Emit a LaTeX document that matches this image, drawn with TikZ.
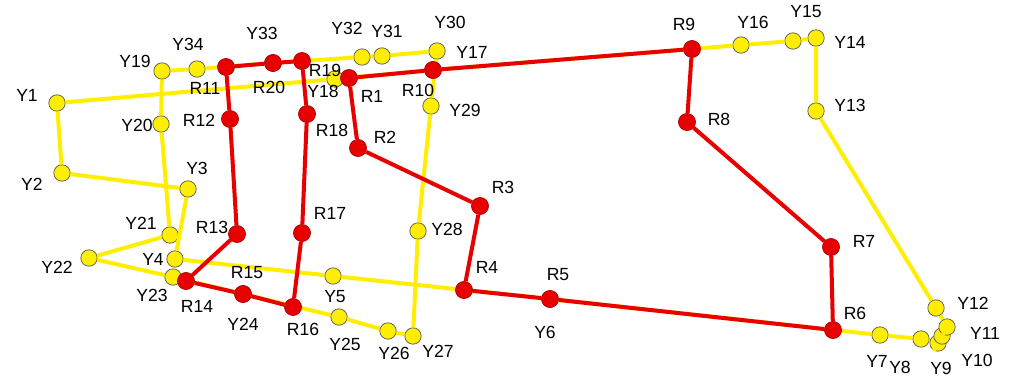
\documentclass[tikz,border=0pt]{standalone}
\usepackage{fontspec}
\setmainfont{Liberation Sans}
\definecolor{ygelb}{RGB}{255,238,0}
\definecolor{rrot}{RGB}{232,0,0}
\begin{document}
\begin{tikzpicture}[x=0.025cm, y=-0.025cm,
	ydot/.style={circle, fill=ygelb, draw=black!65, line width=0.5pt, minimum size=0.41cm, inner sep=0pt},
	rdot/.style={circle, fill=rrot, draw=red!60!black, line width=0.4pt, minimum size=0.43cm, inner sep=0pt},
	yline/.style={draw=ygelb, line width=0.1cm},
	rline/.style={draw=rrot, line width=0.1cm},
	lab/.style={font=\fontsize{12.5}{14}\selectfont, inner sep=0pt}]
	\useasboundingbox (0,0) rectangle (1012,382);

	\foreach \n/\x/\y in {Y1/57/103, Y2/62/173, Y3/188/189, Y4/175/259, Y5/333/276, Y6/550/299,
		Y7/880/335, Y8/921/339, Y9/938/343, Y10/942/336, Y11/947/327, Y12/936/308,
		Y13/816/111, Y14/816/38, Y15/793/41, Y16/741/45, Y17/433/70, Y18/335/79,
		Y19/162/71, Y20/161/124, Y21/170/235, Y22/89/258, Y23/173/277, Y24/243/294,
		Y25/339/317, Y26/388/331, Y27/413/336, Y28/418/231, Y29/431/106, Y30/437/51,
		Y31/382/56, Y32/362/57, Y33/273/63, Y34/197/69}
		\node [ydot] (\n) at (\x,\y) {};

	\draw
		[yline] (Y1) -- (Y2) -- (Y3) -- (Y4) -- (Y5) -- (Y6) -- (Y7) -- (Y8) -- (Y9)
		-- (Y10) -- (Y11) -- (Y12) -- (Y13) -- (Y14) -- (Y15) -- (Y16) -- (Y17) -- (Y18) -- (Y1);

	\draw
		[yline] (Y19) -- (Y20) -- (Y21) -- (Y22) -- (Y23) -- (Y24) -- (Y25) -- (Y26) -- (Y27)
		-- (Y28) -- (Y29) -- (Y30) -- (Y31) -- (Y32) -- (Y33) -- (Y34) -- (Y19);

	\foreach \n/\x/\y in {R1/349/78, R2/358/148, R3/480/206, R4/464/290, R5/550/299,
		R6/833/330, R7/831/247, R8/687/122, R9/692/49, R10/433/70,
		R11/226/67, R12/230/119, R13/237/234, R14/186/281, R15/243/294,
		R16/293/307, R17/302/233, R18/307/114, R19/302/61, R20/273/63}
		\node [rdot] (\n) at (\x,\y) {};

	\draw
		[rline] (R1) -- (R2) -- (R3) -- (R4) -- (R5) -- (R6) -- (R7) -- (R8) -- (R9) -- (R10) -- (R1);

	\draw
		[rline] (R11) -- (R20) -- (R19);

	\draw
		[rline] (R11) -- (R12) -- (R13) -- (R14) -- (R15) -- (R16) -- (R17) -- (R18) -- (R19);

	\foreach \n/\x/\y in {R1/372/96, R2/385/137, R3/503/187, R4/487/267, R5/558/275,
		R6/855/313, R7/864/241, R8/719/119, R9/684/24, R10/418/90,
		R11/205/88, R12/199/120, R13/212/227, R14/197/306, R15/247/273,
		R16/303/329, R17/330/213, R18/332/130, R19/325/70, R20/269/87,
		Y1/27/95, Y2/32/184, Y3/197/168, Y4/153/259, Y5/335/297, Y6/545/332,
		Y7/877/361, Y8/900/367, Y9/941/368, Y10/977/360, Y11/985/333, Y12/973/303,
		Y13/850/105, Y14/850/42, Y15/806/12, Y16/753/22, Y17/472/52, Y18/323/91,
		Y19/135/61, Y20/137/125, Y21/141/223, Y22/57/267, Y23/152/295, Y24/243/324,
		Y25/345/344, Y26/394/353, Y27/438/351, Y28/447/229, Y29/465/110, Y30/450/22,
		Y31/387/31, Y32/347/28, Y33/262/33, Y34/188/44}
		\node [lab] (l\n) at (\x,\y) {\n};
\end{tikzpicture}
\end{document}
